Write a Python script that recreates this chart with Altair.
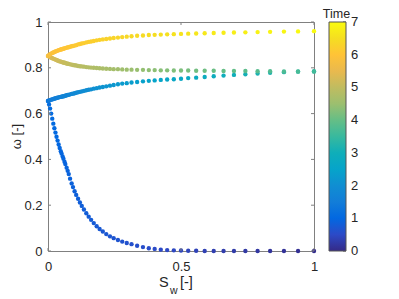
import altair as alt
import pandas as pd

# ---- data ----
sw = [0, 0.004, 0.008, 0.012, 0.016, 0.02, 0.024, 0.028, 0.032, 0.036,
      0.04, 0.044, 0.048, 0.051, 0.055, 0.058, 0.062, 0.065, 0.07, 0.074,
      0.078, 0.083, 0.089, 0.094, 0.1, 0.106, 0.113, 0.12, 0.127, 0.135,
      0.144, 0.153, 0.162, 0.172, 0.183, 0.194, 0.206, 0.219, 0.233, 0.247,
      0.263, 0.279, 0.296, 0.314, 0.335, 0.357, 0.379, 0.401, 0.424, 0.448,
      0.473, 0.5, 0.527, 0.557, 0.589, 0.623, 0.66, 0.699, 0.742, 0.788,
      0.835, 0.887, 0.94, 1.0]

omega_1 = [.655, .640, .622, .600, .578, .556, .536, .517, .499, .482,
           .465, .450, .436, .426, .413, .403, .390, .380, .364, .350,
           .336, .316, .295, .279, .261, .245, .228, .212, .197, .181,
           .165, .150, .136, .122, .108, .096, .085, .074, .064, .056,
           .048, .041, .035, .030, .023, .017, .012, .009, .006, .004,
           .003, .002, .001, .001, 0, 0, 0, 0, 0, 0,
           0, 0, 0, 0]
time_1 = [1.15, 1.11, 1.09, 1.07, 1.06, 1.04, 1.03, 1.02, 1.01, 1.00,
          .99, .98, .97, .97, .96, .95, .94, .94, .93, .92,
          .91, .90, .89, .88, .87, .86, .85, .84, .83, .82,
          .81, .79, .78, .77, .75, .74, .72, .71, .69, .67,
          .66, .64, .62, .60, .58, .56, .54, .51, .49, .47,
          .45, .42, .40, .38, .35, .32, .29, .26, .23, .20,
          .16, .13, .09, .05]

omega_2 = [.655, .657, .659, .661, .662, .664, .665, .667, .668, .669,
           .671, .672, .673, .674, .675, .676, .677, .678, .680, .681,
           .682, .684, .686, .687, .689, .691, .693, .695, .697, .699,
           .702, .704, .706, .709, .711, .714, .716, .719, .722, .725,
           .728, .731, .733, .736, .738, .741, .743, .745, .747, .749,
           .750, .752, .755, .757, .760, .763, .766, .769, .772, .775,
           .778, .781, .783, .785]
time_2 = [1.30, 1.38, 1.42, 1.45, 1.48, 1.50, 1.52, 1.55, 1.57, 1.59,
          1.60, 1.62, 1.64, 1.65, 1.67, 1.68, 1.70, 1.71, 1.73, 1.74,
          1.75, 1.77, 1.79, 1.81, 1.83, 1.85, 1.87, 1.89, 1.91, 1.93,
          1.96, 1.98, 2.00, 2.03, 2.06, 2.08, 2.11, 2.14, 2.18, 2.21,
          2.24, 2.28, 2.31, 2.35, 2.39, 2.43, 2.47, 2.51, 2.56, 2.60,
          2.64, 2.69, 2.73, 2.78, 2.83, 2.88, 2.94, 2.99, 3.06, 3.12,
          3.18, 3.25, 3.32, 3.40]

omega_3 = [.852, .849, .847, .844, .842, .840, .838, .836, .834, .832,
           .830, .828, .827, .826, .824, .823, .822, .821, .819, .818,
           .817, .815, .814, .812, .811, .810, .808, .807, .806, .805,
           .803, .802, .801, .800, .799, .798, .797, .796, .795, .794,
           .794, .793, .792, .792, .791, .791, .790, .790, .789, .789,
           .788, .788, .788, .787, .787, .787, .786, .786, .786, .785,
           .785, .784, .784, .783]
time_3 = [5.40, 5.33, 5.30, 5.27, 5.25, 5.23, 5.21, 5.19, 5.17, 5.16,
          5.14, 5.12, 5.11, 5.10, 5.08, 5.07, 5.06, 5.05, 5.03, 5.02,
          5.01, 5.00, 4.98, 4.96, 4.95, 4.93, 4.91, 4.90, 4.88, 4.86,
          4.84, 4.82, 4.80, 4.77, 4.75, 4.73, 4.70, 4.68, 4.65, 4.62,
          4.59, 4.56, 4.53, 4.50, 4.47, 4.43, 4.39, 4.36, 4.32, 4.29,
          4.25, 4.21, 4.17, 4.13, 4.09, 4.04, 4.00, 3.95, 3.90, 3.84,
          3.78, 3.73, 3.67, 3.60]

omega_4 = [.852, .856, .859, .862, .865, .867, .869, .871, .873, .875,
           .877, .878, .880, .881, .882, .883, .885, .886, .888, .889,
           .890, .892, .894, .895, .897, .899, .902, .904, .906, .908,
           .911, .913, .915, .917, .920, .922, .924, .926, .928, .930,
           .932, .934, .936, .938, .940, .941, .943, .944, .945, .946,
           .947, .948, .949, .950, .951, .952, .953, .954, .955, .956,
           .957, .958, .959, .960]
time_4 = [5.80, 5.84, 5.87, 5.88, 5.90, 5.91, 5.93, 5.94, 5.95, 5.96,
          5.97, 5.98, 5.99, 6.00, 6.01, 6.02, 6.03, 6.03, 6.04, 6.05,
          6.06, 6.07, 6.08, 6.09, 6.10, 6.11, 6.12, 6.14, 6.15, 6.16,
          6.18, 6.19, 6.20, 6.22, 6.23, 6.25, 6.27, 6.28, 6.30, 6.32,
          6.34, 6.36, 6.38, 6.40, 6.42, 6.45, 6.47, 6.49, 6.52, 6.54,
          6.57, 6.59, 6.62, 6.64, 6.67, 6.70, 6.74, 6.77, 6.80, 6.84,
          6.88, 6.92, 6.96, 7.00]

x_ticks = [0, 0.5, 1]
y_ticks = [0, 0.2, 0.4, 0.6, 0.8, 1]
cbar_ticks = [0, 1, 2, 3, 4, 5, 6, 7]
t_max = 7

x_title_main = "S"
x_title_sub = "w"
x_title_unit = "[-]"
y_title = "ω [-]"
cbar_title = "Time"

parula = ["#352a87", "#2c4ac7", "#0268e1", "#127dd8", "#108ed2",
          "#06a4ca", "#0faeb9", "#38b99e", "#65be86", "#9cbf6f",
          "#c0bc60", "#e9b94e", "#ffc337", "#f5de21", "#f9fb0e"]

# ---- build table ----
rows = []
for om, tm in [(omega_1, time_1), (omega_2, time_2), (omega_3, time_3), (omega_4, time_4)]:
    for s, o, t in zip(sw, om, tm):
        rows.append({"Sw": s, "omega": o, "Time": t})
df = pd.DataFrame(rows)

W, H = 266, 229
FONT = "Liberation Sans"
TXT = "#262626"
AX = "#808080"
CB_X = 281       # colour bar left edge, relative to plot
CB_T = 17        # colour bar thickness

xs = alt.Scale(domain=[0, 1], nice=False, zero=False)
ys = alt.Scale(domain=[0, 1], nice=False, zero=False)
x_axis = alt.Axis(values=x_ticks, format="~g", labelPadding=9, labelFlush=False)
y_axis = alt.Axis(values=y_ticks, format="~g", labelPadding=6, labelFlush=False)

points = alt.Chart(df).mark_circle(size=19, opacity=1).encode(
    x=alt.X("Sw:Q", scale=xs, title=None, axis=x_axis),
    y=alt.Y("omega:Q", scale=ys, title=None, axis=y_axis),
    color=alt.Color("Time:Q",
                    scale=alt.Scale(domain=[0, t_max], range=parula, interpolate="rgb"),
                    legend=alt.Legend(orient="none", legendX=CB_X, legendY=0,
                                      direction="vertical", gradientLength=H,
                                      gradientThickness=CB_T, values=cbar_ticks,
                                      labelOpacity=0, labelFontSize=1,
                                      gradientStrokeColor="#555555",
                                      gradientStrokeWidth=1, title=None)),
    order=alt.Order("Time:Q", sort="ascending"),
)

ydf = pd.DataFrame({"v": y_ticks})
xdf = pd.DataFrame({"v": x_ticks})
cdf = pd.DataFrame({"v": cbar_ticks})


def yrule(x1, x2):
    return alt.Chart(ydf).mark_rule(color=AX, strokeWidth=1).encode(
        y=alt.Y("v:Q", scale=ys, title=None, axis=y_axis), x=alt.value(x1), x2=alt.value(x2))


def xrule(y1, y2):
    return alt.Chart(xdf).mark_rule(color=AX, strokeWidth=1).encode(
        x=alt.X("v:Q", scale=xs, title=None, axis=x_axis), y=alt.value(y1), y2=alt.value(y2))


cbar_ticks_marks = alt.Chart(cdf).transform_calculate(p=f"datum.v/{t_max}").mark_rule(
    color="#555555", strokeWidth=1).encode(
    y=alt.Y("p:Q", scale=ys, title=None, axis=y_axis),
    x=alt.value(CB_X + CB_T - 3), x2=alt.value(CB_X + CB_T))
cbar_labels = alt.Chart(cdf).transform_calculate(p=f"datum.v/{t_max}").mark_text(
    font=FONT, fontSize=13, color=TXT, align="left", baseline="middle").encode(
    y=alt.Y("p:Q", scale=ys, title=None, axis=y_axis),
    x=alt.value(CB_X + CB_T + 5), text=alt.Text("v:Q"))


def label(txt, x, y, size, align="left", baseline="alphabetic", angle=0):
    return alt.Chart(pd.DataFrame({"t": [txt]})).mark_text(
        font=FONT, fontSize=size, color=TXT, align=align, baseline=baseline,
        angle=angle).encode(text="t:N", x=alt.value(x), y=alt.value(y))


t_s = label(x_title_main, 111, 265, 14.5)
t_w = label(x_title_sub, 122, 272, 10.5)
t_u = label(x_title_unit, 132, 265, 14.5)
t_y = label(y_title, -27, 114.5, 13, align="center", angle=270)
t_c = label(cbar_title, 288.5, -4.5, 12.5, align="center")

chart = alt.layer(points, yrule(0, 3), yrule(W - 3, W), xrule(H - 3, H), xrule(0, 3),
                  cbar_ticks_marks, cbar_labels,
                  t_s, t_w, t_u, t_y, t_c).properties(
    width=W, height=H,
    autosize=alt.AutoSizeParams(type="none"),
    padding={"left": 40, "top": 14, "right": 70, "bottom": 50},
).configure_view(stroke=AX, strokeWidth=1).configure_axis(
    domain=False, ticks=False, grid=False,
    labelFont=FONT, labelFontSize=13, labelColor=TXT,
)

chart.save("out.html", embed_options={"renderer": "svg", "actions": False})
